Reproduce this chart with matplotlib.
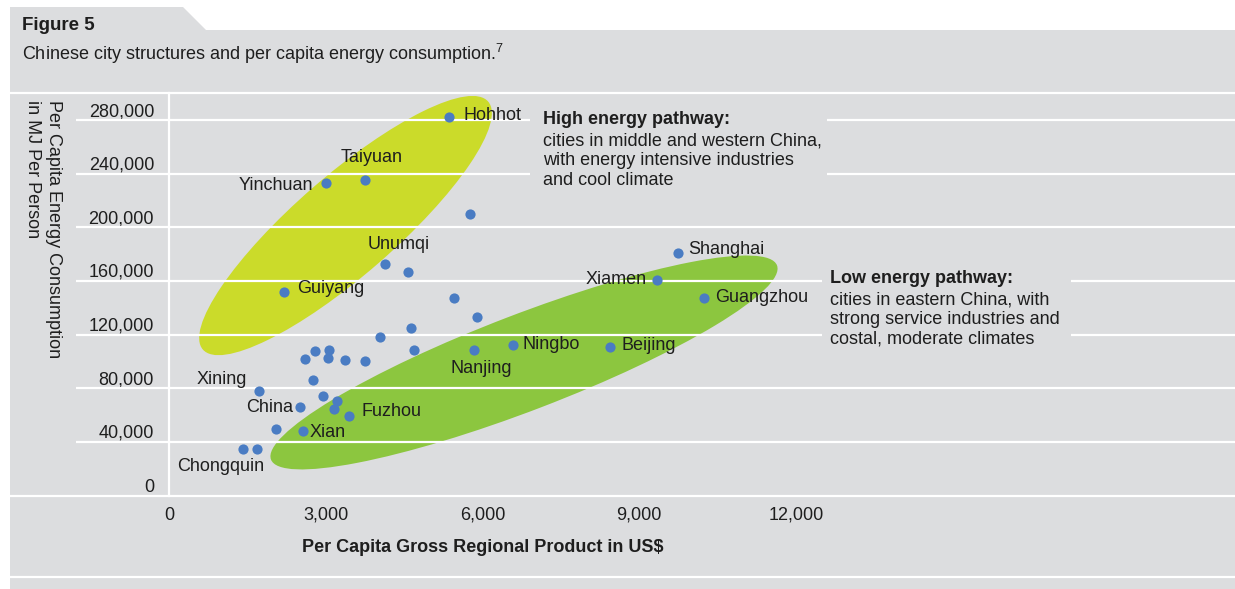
import matplotlib.pyplot as plt
from matplotlib.patches import Ellipse, Polygon, Rectangle
from matplotlib.lines import Line2D
from matplotlib.transforms import ScaledTranslation

plt.rcParams['font.family'] = ['Liberation Sans', 'DejaVu Sans']
plt.rcParams['mathtext.fontset'] = 'custom'
plt.rcParams['mathtext.rm'] = 'Liberation Sans'

# per capita GRP (US$) vs per capita energy use (MJ/person), '' = unlabeled city
cities = ['Hohhot', 'Yinchuan', 'Taiyuan', '', 'Unumqi', '', 'Guiyang', '', '', '',
          '', '', 'Nanjing', '', '', '', '', '', '', '',
          'Xining', '', '', 'China', '', 'Fuzhou', '', 'Xian', 'Chongquin', '',
          'Ningbo', 'Beijing', 'Shanghai', 'Xiamen', 'Guangzhou']
gdp = [5365, 2999, 3751, 5761, 4134, 4580, 2195, 5460, 5900, 4632,
       4042, 4695, 5843, 2609, 2800, 3056, 3037, 3368, 3751, 2756,
       1722, 2947, 3209, 2513, 3158, 3445, 2054, 2565, 1422, 1684,
       6578, 8446, 9736, 9346, 10239]
energy = [282000, 233000, 235000, 210000, 173000, 167000, 152000, 147500, 133000, 125000,
          118400, 108500, 108500, 101600, 107800, 108500, 102300, 100800, 100300, 85900,
          77900, 74000, 70500, 66000, 64500, 59300, 49400, 47900, 34900, 34900,
          112200, 110500, 180800, 160700, 147100]

x_ticks = [0, 3000, 6000, 9000, 12000]
y_ticks = [0, 40000, 80000, 120000, 160000, 200000, 240000, 280000]

high_title = 'High energy pathway:'
high_text = 'cities in middle and western China,\nwith energy intensive industries\nand cool climate'
low_title = 'Low energy pathway:'
low_text = 'cities in eastern China, with\nstrong service industries and\ncostal, moderate climates'

# label placement: offset in pixels from the dot, alignment
label_pos = {
    'Hohhot': (14, 2, 'left'), 'Yinchuan': (-13, -2, 'right'), 'Taiyuan': (7, 23, 'center'),
    'Unumqi': (14, 19, 'center'), 'Guiyang': (13, 3, 'left'), 'Xining': (-12, 12, 'right'),
    'China': (-7, -1, 'right'), 'Fuzhou': (12, 4, 'left'), 'Xian': (7, -1, 'left'),
    'Chongquin': (-23, -18, 'center'), 'Nanjing': (7, -18, 'center'), 'Ningbo': (10, 1, 'left'),
    'Beijing': (11, 2, 'left'), 'Shanghai': (10, 4, 'left'), 'Xiamen': (-11, 1, 'right'),
    'Guangzhou': (11, 1, 'left'),
}

BG = '#dcdddf'
TXT = '#1e1e1e'
W, H = 1235, 589


def fx(px):
    return px / W


def fy(py):
    return 1 - py / H


fig = plt.figure(figsize=(W / 100, H / 100), dpi=100)
fig.patch.set_facecolor('white')

# grey panel with the tab on top
panel = Polygon([(fx(10), fy(7)), (fx(183), fy(7)), (fx(206), fy(30)), (1, fy(30)),
                 (1, 0), (fx(10), 0)], closed=True, transform=fig.transFigure,
                facecolor=BG, edgecolor='none', zorder=-1)
fig.add_artist(panel)
fig.add_artist(Line2D([fx(10), 1], [fy(577), fy(577)], transform=fig.transFigure,
                      color='white', lw=1.6))

ax = fig.add_axes([fx(76), fy(495.5), (W - 76) / W, (495.5 - 93.2) / H])
ax.patch.set_visible(False)
ax.set_xlim(-1780, 20402)
ax.set_ylim(0, 300000)

for s in ['top', 'right', 'bottom']:
    ax.spines[s].set_visible(False)
ax.spines['left'].set_position(('data', 0))
ax.spines['left'].set_color('white')
ax.spines['left'].set_linewidth(1.6)
ax.spines['left'].set_zorder(2)

for v in y_ticks[1:]:
    ax.axhline(v, color='white', lw=1.6, zorder=2)
ax.axhline(0, xmin=-66 / 1159, xmax=1, color='white', lw=1.6, zorder=2, clip_on=False)
ax.axhline(300000, xmin=-66 / 1159, xmax=1, color='white', lw=1.6, zorder=2, clip_on=False)

ax.set_xticks(x_ticks)
ax.set_xticklabels([f'{v:,}' for v in x_ticks])
ax.set_yticks(y_ticks)
ax.set_yticklabels([f'{v:,}' for v in y_ticks])
ax.tick_params(axis='both', length=0, labelsize=13, colors=TXT)
ax.tick_params(axis='x', pad=8)
ax.tick_params(axis='y', pad=10.8)
plt.setp(ax.get_yticklabels(), va='bottom')

# pathway ellipses, sized in pixels, centred on data points
yellow = Ellipse((0, 0), 3.78, 1.00, angle=41,
                 transform=fig.dpi_scale_trans + ScaledTranslation(3378, 201300, ax.transData),
                 facecolor='#cbdb2a', edgecolor='none', zorder=1)
green = Ellipse((0, 0), 5.42, 0.96, angle=21,
                transform=fig.dpi_scale_trans + ScaledTranslation(6794, 99200, ax.transData),
                facecolor='#8cc63f', edgecolor='none', zorder=1)
ax.add_patch(yellow)
ax.add_patch(green)

# masks behind the pathway notes
ax.add_patch(Rectangle((fx(530), fy(197)), fx(827) - fx(530), 97 / H, transform=fig.transFigure,
                       facecolor=BG, edgecolor='none', zorder=2.5))
ax.add_patch(Rectangle((fx(822), fy(352)), fx(1071) - fx(822), 90 / H, transform=fig.transFigure,
                       facecolor=BG, edgecolor='none', zorder=2.5))

ax.scatter(gdp, energy, s=54, color='#4a7cc3', linewidths=0, zorder=3)

for name, x, y in zip(cities, gdp, energy):
    if name:
        dx, dy, ha = label_pos[name]
        ax.annotate(name, (x, y), xytext=(dx, dy), textcoords='offset pixels',
                    ha=ha, va='center', fontsize=13, color=TXT, zorder=4)

ax.set_xlabel('Per Capita Gross Regional Product in US$', fontsize=13, fontweight='bold', color=TXT)
ax.xaxis.set_label_coords((483 - 76) / 1159, (495.5 - 548) / 402.3)
ax.xaxis.label.set_va('center')

ax.set_ylabel('Per Capita Energy Consumption\nin MJ Per Person', fontsize=13, color=TXT,
              rotation=270, rotation_mode='default', ha='center', va='top',
              multialignment='left', linespacing=1.3)
ax.yaxis.set_label_coords((43 - 76) / 1159, (495.5 - 100) / 402.3)

fig.text(fx(543), fy(123.5), high_title, fontsize=13, fontweight='bold', color=TXT, va='baseline')
fig.text(fx(543), fy(132.5), high_text, fontsize=13, color=TXT, va='top', linespacing=1.2)
fig.text(fx(830), fy(283), low_title, fontsize=13, fontweight='bold', color=TXT, va='baseline')
fig.text(fx(830), fy(291.5), low_text, fontsize=13, color=TXT, va='top', linespacing=1.2)

fig.text(fx(22), fy(30), 'Figure 5', fontsize=13.5, fontweight='bold', color=TXT, va='baseline')
fig.text(fx(22), fy(60), 'Chinese city structures and per capita energy consumption.$^{7}$',
         fontsize=13, color=TXT, va='baseline')

fig.savefig('out.png', dpi=100, facecolor=fig.get_facecolor())
